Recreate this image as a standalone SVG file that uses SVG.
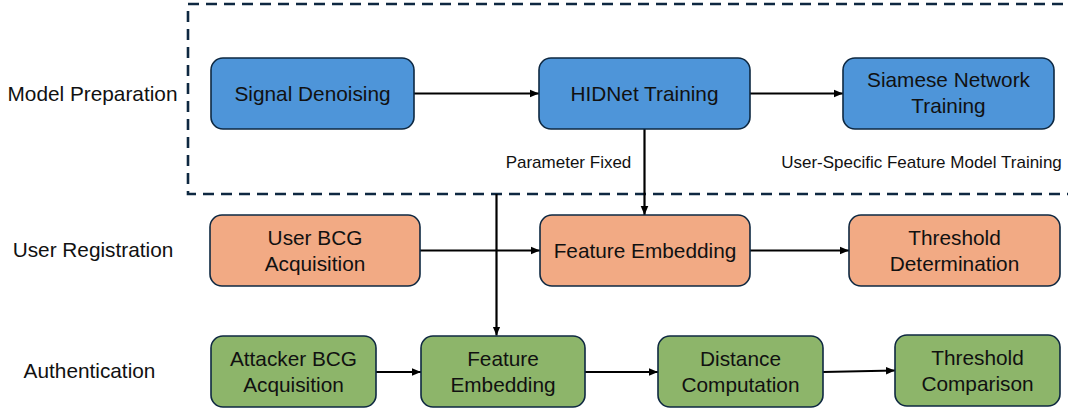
<svg xmlns="http://www.w3.org/2000/svg" width="1068" height="411" viewBox="0 0 1068 411">
<style>
.box{stroke:#0E2841;stroke-width:1.6}
.blue{fill:#4E95D9}
.orange{fill:#F2AA84}
.green{fill:#8DB56A}
.t{font-family:"Liberation Sans",Arial,sans-serif;font-size:20.8px;fill:#111;text-anchor:middle}
.row{font-family:"Liberation Sans",Arial,sans-serif;font-size:20.8px;fill:#111;text-anchor:middle}
.lbl{font-family:"Liberation Sans",Arial,sans-serif;font-size:17px;fill:#111;text-anchor:middle}
.c{stroke:#000;stroke-width:2.2;fill:none;marker-end:url(#ah)}
</style>
<defs>
<marker id="ah" markerUnits="userSpaceOnUse" markerWidth="10" markerHeight="10" refX="9" refY="5" orient="auto">
<path d="M0,1.2 L9,5 L0,8.8 Z" fill="#000"/>
</marker>
</defs>
<rect x="0" y="0" width="1068" height="411" fill="#fff"/>
<rect id="stage-box" x="188" y="4" width="890" height="190" fill="none" stroke="#0E2841" stroke-width="2.6" stroke-dasharray="11 7"/>
<g id="row-labels">
<text class="row" x="92.5" y="100.5">Model Preparation</text>
<text class="row" x="93" y="257">User Registration</text>
<text class="row" x="89.5" y="378">Authentication</text>
</g>
<g id="edge-labels">
<text class="lbl" x="568.5" y="168">Parameter Fixed</text>
<text class="lbl" x="921.5" y="168">User-Specific Feature Model Training</text>
</g>
<g id="connectors">
<line class="c" x1="414" y1="93.5" x2="539" y2="93.5"/>
<line class="c" x1="750" y1="93.5" x2="843" y2="93.5"/>
<line class="c" x1="644.5" y1="129" x2="644.5" y2="215"/>
<line class="c" x1="496.5" y1="194" x2="496.5" y2="335.5"/>
<line class="c" x1="420" y1="250.5" x2="540" y2="250.5"/>
<line class="c" x1="750" y1="250.5" x2="849" y2="250.5"/>
<line class="c" x1="376" y1="372" x2="421" y2="372"/>
<line class="c" x1="585" y1="372" x2="658" y2="372"/>
<line class="c" x1="823" y1="372" x2="895" y2="370.5"/>
</g>
<g id="signal-denoising">
<rect class="box blue" x="211" y="58" width="203" height="71" rx="12"/>
<text class="t" x="312.5" y="100.5">Signal Denoising</text>
</g>
<g id="hidnet-training">
<rect class="box blue" x="539" y="58" width="211" height="71" rx="12"/>
<text class="t" x="644.5" y="100.5">HIDNet Training</text>
</g>
<g id="siamese-training">
<rect class="box blue" x="843" y="58" width="211" height="71" rx="12"/>
<text class="t" x="948.5" y="87">Siamese Network</text>
<text class="t" x="948.5" y="113">Training</text>
</g>
<g id="user-bcg">
<rect class="box orange" x="210" y="215" width="210" height="71" rx="12"/>
<text class="t" x="315" y="245">User BCG</text>
<text class="t" x="315" y="271">Acquisition</text>
</g>
<g id="feature-embedding-reg">
<rect class="box orange" x="540" y="215" width="210" height="71" rx="12"/>
<text class="t" x="645" y="258">Feature Embedding</text>
</g>
<g id="threshold-determination">
<rect class="box orange" x="849" y="215" width="211" height="71" rx="12"/>
<text class="t" x="954.5" y="245">Threshold</text>
<text class="t" x="954.5" y="271">Determination</text>
</g>
<g id="attacker-bcg">
<rect class="box green" x="211" y="336" width="165" height="71" rx="12"/>
<text class="t" x="293.5" y="366">Attacker BCG</text>
<text class="t" x="293.5" y="392">Acquisition</text>
</g>
<g id="feature-embedding-auth">
<rect class="box green" x="421" y="336" width="164" height="71" rx="12"/>
<text class="t" x="503" y="366">Feature</text>
<text class="t" x="503" y="392">Embedding</text>
</g>
<g id="distance-computation">
<rect class="box green" x="658" y="336" width="165" height="71" rx="12"/>
<text class="t" x="740.5" y="366">Distance</text>
<text class="t" x="740.5" y="392">Computation</text>
</g>
<g id="threshold-comparison">
<rect class="box green" x="895" y="335" width="165" height="71" rx="12"/>
<text class="t" x="977.5" y="365">Threshold</text>
<text class="t" x="977.5" y="391">Comparison</text>
</g>
</svg>
